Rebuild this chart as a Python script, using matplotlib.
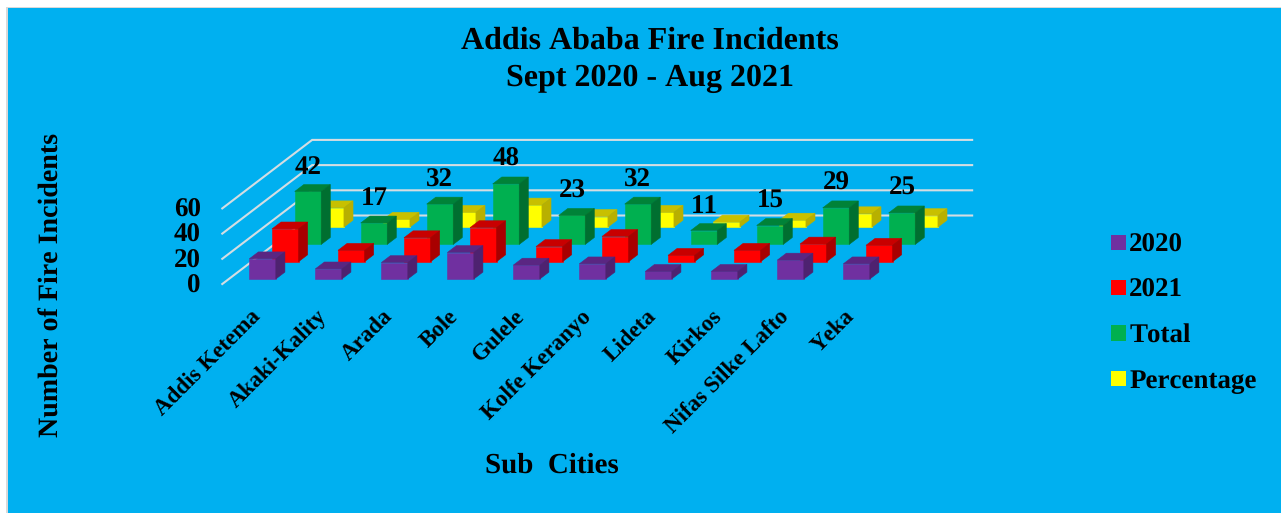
import matplotlib
matplotlib.use('Agg')
import matplotlib.pyplot as plt
from matplotlib.patches import Polygon, Patch, Rectangle

plt.rcParams['font.family'] = ['Liberation Serif', 'DejaVu Serif']
plt.rcParams['font.weight'] = 'bold'
plt.rcParams['text.hinting'] = 'no_hinting'
plt.rcParams['text.hinting_factor'] = 1
plt.rcParams['text.kerning_factor'] = 6

sub_cities = ['Addis Ketema', 'Akaki-Kality', 'Arada', 'Bole', 'Gulele',
              'Kolfe Keranyo', 'Lideta', 'Kirkos', 'Nifas Silke Lafto', 'Yeka']
y2020 = [16, 8, 13, 21, 11, 12, 6, 6, 15, 12]
y2021 = [26, 9, 19, 27, 12, 20, 5, 9, 14, 13]
total = [42, 17, 32, 48, 23, 32, 11, 15, 29, 25]
percentage = [15.3, 6.2, 11.7, 17.5, 8.4, 11.7, 4.0, 5.5, 10.6, 9.1]
y_ticks = [0, 20, 40, 60]

series_names = ['2020', '2021', 'Total', 'Percentage']
series_values = [y2020, y2021, total, percentage]
# front, top, side
series_colors = [('#7030A0', '#5A2682', '#4E2270'),
                 ('#FF0000', '#C80000', '#A80000'),
                 ('#00B050', '#008238', '#006F30'),
                 ('#FFFF00', '#C8C000', '#B8B000')]

W, H = 1281, 513
# pixels per category / per value, and where category 0, value 0 sits
px_cat, px_val = 66.0, 1.26
x0, y0 = 249.3, 279.0
# one depth unit is one series step back in the oblique view
depth_dx, depth_dy = 22.7 / px_cat, 17.3 / px_val
bar_w = 0.402
bar_d = 0.4
floor_x = (-0.31, 9.69)
floor_d = (-0.29, 3.67)


def project(cat, depth, val):
    return cat + depth * depth_dx, val + depth * depth_dy


def draw_bar(ax, cat, depth, val, colors, z):
    front, top, side = colors
    x1, x2 = cat, cat + bar_w
    d1, d2 = depth, depth + bar_d
    faces = [
        ([(x1, d1, 0), (x2, d1, 0), (x2, d1, val), (x1, d1, val)], front),
        ([(x1, d1, val), (x2, d1, val), (x2, d2, val), (x1, d2, val)], top),
        ([(x2, d1, 0), (x2, d2, 0), (x2, d2, val), (x2, d1, val)], side),
    ]
    for pts, c in faces:
        ax.add_patch(Polygon([project(*p) for p in pts], closed=True, facecolor=c,
                             edgecolor=c, linewidth=0.4, zorder=z))


fig = plt.figure(figsize=(W / 100, H / 100), dpi=100, facecolor='#00B0F0')
ax = fig.add_axes([0, 0, 1, 1])
ax.set_xlim(-x0 / px_cat, (W - x0) / px_cat)
ax.set_ylim((y0 - H) / px_val, y0 / px_val)
ax.axis('off')

# white margin and grey frame line, left and top
ax.add_patch(Rectangle((0, 0), 8 / W, 1, transform=ax.transAxes, facecolor='#D9D9D9',
                       edgecolor='none', zorder=0.5))
ax.add_patch(Rectangle((0, 1 - 8 / H), 1, 8 / H, transform=ax.transAxes, facecolor='#D9D9D9',
                       edgecolor='none', zorder=0.5))
ax.add_patch(Rectangle((0, 0), 6 / W, 1, transform=ax.transAxes, facecolor='#FFFFFF',
                       edgecolor='none', zorder=0.6))
ax.add_patch(Rectangle((0, 1 - 7 / H), 1, 7 / H, transform=ax.transAxes, facecolor='#FFFFFF',
                       edgecolor='none', zorder=0.6))

# walls
grid_c = '#D4DDE2'
for v in y_ticks:
    xa, ya = project(floor_x[0], floor_d[0], v)
    xb, yb = project(floor_x[0], floor_d[1], v)
    xc, yc = project(floor_x[1], floor_d[1], v)
    ax.plot([xa, xb, xc], [ya, yb, yc], color=grid_c, lw=1.5, zorder=1, solid_joinstyle='miter')
    ax.text(xa - 21.5 / px_cat, ya - 2 / px_val, str(v), ha='right', va='center', fontsize=19.5,
            color='black', zorder=6)

# back series first so the front ones overlap them
for s in range(3, -1, -1):
    for c in range(len(sub_cities)):
        draw_bar(ax, c, s, series_values[s][c], series_colors[s], 2 + (3 - s) + c * 0.01)

for c, v in enumerate(total):
    x, y = project(c + bar_w / 2, 2, v)
    ax.annotate(str(v), (x, y), xytext=(0, 17.5), textcoords='offset points', ha='center',
                va='center', fontsize=19.5, color='black', zorder=7)

for c, name in enumerate(sub_cities):
    ax.annotate(name, (c + bar_w / 2, 0), xytext=(-3.5, -25), textcoords='offset points',
                ha='right', va='center', rotation=45, rotation_mode='anchor', fontsize=16.4,
                color='black', zorder=7)

fig.text(650 / W, 1 - 41 / H, 'Addis Ababa Fire Incidents', ha='center', va='center',
         fontsize=23, color='black')
fig.text(650 / W, 1 - 78 / H, 'Sept 2020 - Aug 2021', ha='center', va='center',
         fontsize=23, color='black')
fig.text(52 / W, 1 - 285 / H, 'Number of Fire Incidents', ha='center', va='center',
         rotation=90, fontsize=20.3, color='black')
fig.text(552 / W, 1 - 466 / H, 'Sub  Cities', ha='center', va='center', fontsize=21, color='black')

handles = [Patch(facecolor=series_colors[i][0], edgecolor='none', label=series_names[i])
           for i in range(4)]
fig.legend(handles=handles, loc='center left', bbox_to_anchor=(1087 / W, 1 - 313.5 / H),
           frameon=False, fontsize=19.3, handlelength=0.55, handleheight=0.5, handletextpad=0.13,
           labelspacing=0.78, labelcolor='black')

fig.savefig('out.png', dpi=100, facecolor=fig.get_facecolor())
